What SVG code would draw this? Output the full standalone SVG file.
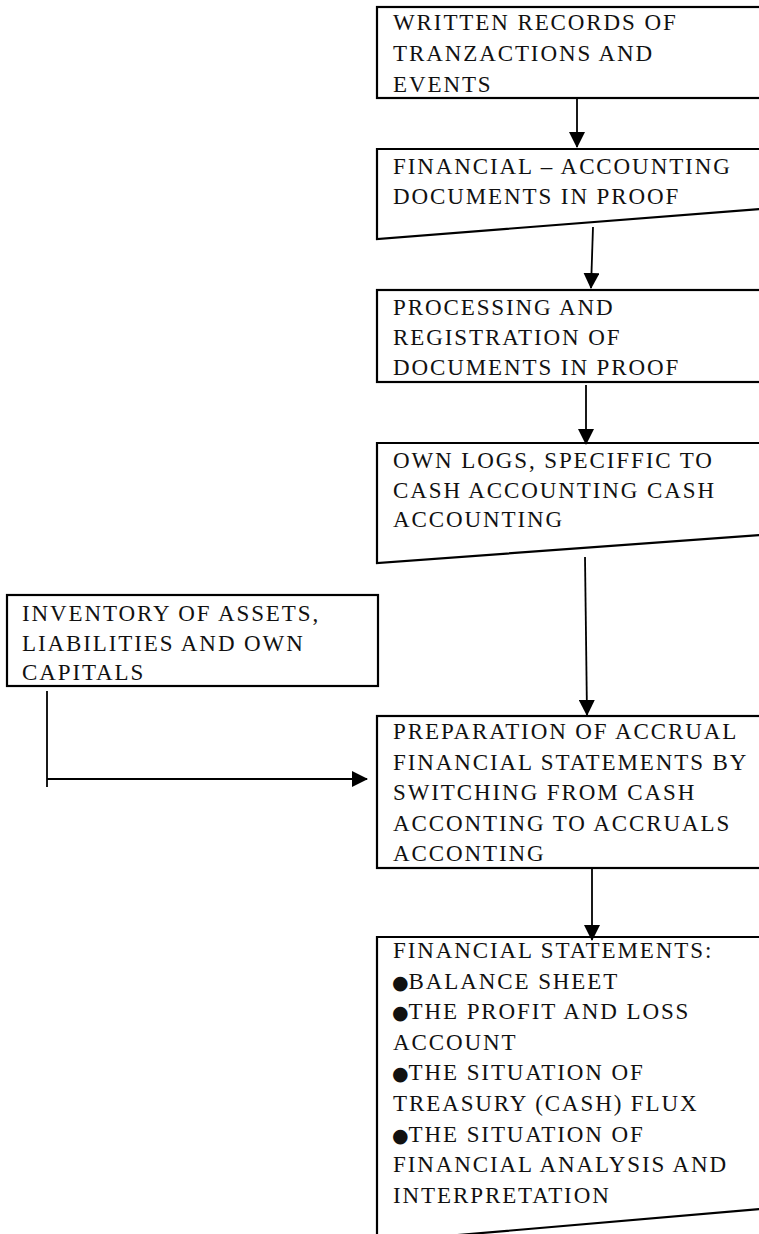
<svg xmlns="http://www.w3.org/2000/svg" width="759" height="1234" viewBox="0 0 759 1234">
<style>
.box{fill:#fff;stroke:#000;stroke-width:2.2}
.t{font-family:"Liberation Serif","Times New Roman",serif;font-size:23px;letter-spacing:1.9px;fill:#111}
.b{font-family:"DejaVu Sans",sans-serif;font-size:19px;letter-spacing:0}
.c{stroke:#000;stroke-width:1.8;fill:none}
</style>
<defs>
<marker id="ah" markerUnits="userSpaceOnUse" markerWidth="16" markerHeight="16" refX="15" refY="8" orient="auto">
<path d="M0,0 L16,8 L0,16 Z" fill="#000"/>
</marker>
</defs>
<rect width="759" height="1234" fill="#fff"/>
<g id="n1">
<rect class="box" x="377" y="7" width="384" height="91"/>
<text class="t" x="393" y="30">WRITTEN RECORDS OF</text>
<text class="t" x="393" y="61">TRANZACTIONS AND</text>
<text class="t" x="393" y="91.5">EVENTS</text>
</g>
<g id="n2">
<path class="box" d="M377,149 H761 V209 L377,239 Z"/>
<text class="t" x="393" y="174">FINANCIAL – ACCOUNTING</text>
<text class="t" x="393" y="204">DOCUMENTS IN PROOF</text>
</g>
<g id="n3">
<rect class="box" x="377" y="290" width="384" height="92"/>
<text class="t" x="393" y="315">PROCESSING AND</text>
<text class="t" x="393" y="345">REGISTRATION OF</text>
<text class="t" x="393" y="375">DOCUMENTS IN PROOF</text>
</g>
<g id="n4">
<path class="box" d="M377,443 H761 V535 L377,563 Z"/>
<text class="t" x="393" y="468">OWN LOGS, SPECIFFIC TO</text>
<text class="t" x="393" y="498">CASH ACCOUNTING CASH</text>
<text class="t" x="393" y="527">ACCOUNTING</text>
</g>
<g id="n5">
<rect class="box" x="7" y="595" width="371" height="91"/>
<text class="t" x="22" y="621">INVENTORY OF ASSETS,</text>
<text class="t" x="22" y="651">LIABILITIES AND OWN</text>
<text class="t" x="22" y="680">CAPITALS</text>
</g>
<g id="n6">
<rect class="box" x="377" y="716" width="384" height="152"/>
<text class="t" x="393" y="739">PREPARATION OF ACCRUAL</text>
<text class="t" x="393" y="769.5">FINANCIAL STATEMENTS BY</text>
<text class="t" x="393" y="800">SWITCHING FROM CASH</text>
<text class="t" x="393" y="830.5">ACCONTING TO ACCRUALS</text>
<text class="t" x="393" y="861">ACCONTING</text>
</g>
<g id="n7">
<path class="box" d="M377,1242 V937 H761 V1209 Z"/>
<text class="t" x="393" y="958">FINANCIAL STATEMENTS:</text>
<text class="t" x="392" y="988.6"><tspan class="b">●</tspan>BALANCE SHEET</text>
<text class="t" x="392" y="1019.2"><tspan class="b">●</tspan>THE PROFIT AND LOSS</text>
<text class="t" x="393" y="1049.8">ACCOUNT</text>
<text class="t" x="392" y="1080.4"><tspan class="b">●</tspan>THE SITUATION OF</text>
<text class="t" x="393" y="1111">TREASURY (CASH) FLUX</text>
<text class="t" x="392" y="1141.6"><tspan class="b">●</tspan>THE SITUATION OF</text>
<text class="t" x="393" y="1172.2">FINANCIAL ANALYSIS AND</text>
<text class="t" x="393" y="1202.8">INTERPRETATION</text>
</g>
<g id="connectors">
<line class="c" x1="577" y1="99" x2="577" y2="147" marker-end="url(#ah)"/>
<line class="c" x1="593" y1="227" x2="591" y2="288" marker-end="url(#ah)"/>
<line class="c" x1="586" y1="385" x2="586" y2="444" marker-end="url(#ah)"/>
<line class="c" x1="585" y1="557" x2="587" y2="715" marker-end="url(#ah)"/>
<line class="c" x1="592" y1="869" x2="592" y2="940" marker-end="url(#ah)"/>
<line class="c" x1="47" y1="691" x2="47" y2="787"/>
<line class="c" x1="47" y1="779" x2="367" y2="779" marker-end="url(#ah)"/>
</g>
</svg>
